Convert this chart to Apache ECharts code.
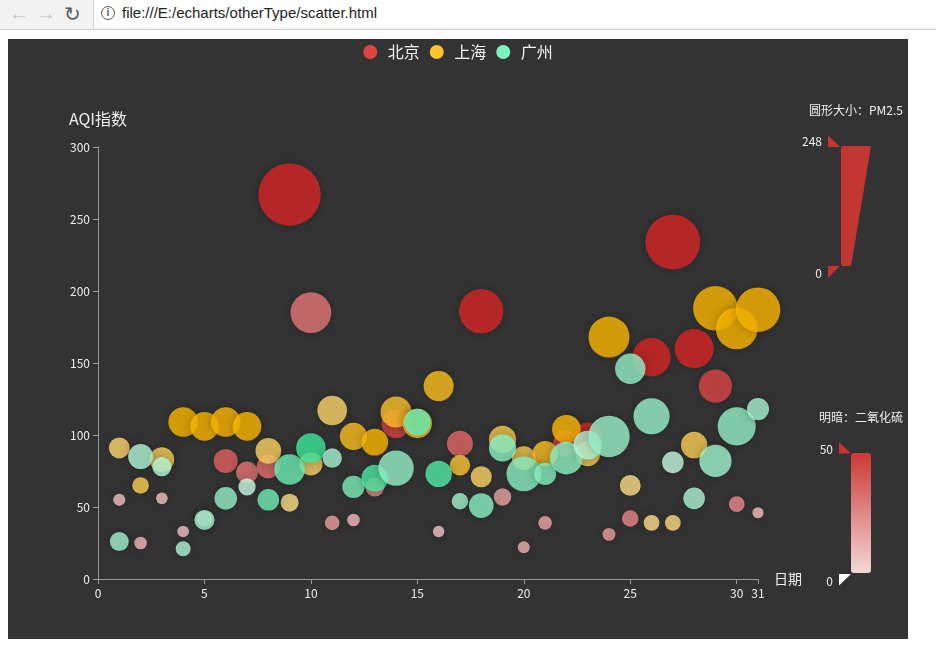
<!DOCTYPE html>
<html>
<head>
<meta charset="utf-8">
<script src="https://cdn.jsdelivr.net/npm/echarts@6/dist/echarts.min.js"></script>
<style>
  html, body { margin: 0; padding: 0; background: #fff; width: 936px; height: 654px; overflow: hidden; }
  #chrome { position: absolute; left: 0; top: 0; width: 936px; height: 29px; background: #f2f2f2; border-bottom: 1px solid #d0d0d0; font-family: "Liberation Sans", "DejaVu Sans", sans-serif; }
  #chrome .nav { position: absolute; top: 2px; font-size: 20px; color: #c8c8c8; }
  #chrome .reload { color: #5a5a5a; }
  #url { position: absolute; left: 93px; top: 0; width: 850px; height: 28px; background: #fff; border-left: 1px solid #d0d0d0; }
  #url span { position: absolute; left: 28px; top: 4px; font-size: 15px; color: #222; }
  #url i { position: absolute; left: 7px; top: 6px; width: 12px; height: 12px; border: 1.5px solid #555; border-radius: 50%; font-style: normal; font-size: 10px; line-height: 12px; text-align: center; color: #555; font-weight: bold; }
  #main { position: absolute; left: 8px; top: 39px; width: 900px; height: 600px; }
</style>
</head>
<body>
<div id="chrome">
  <span class="nav" style="left:9px">&#8592;</span>
  <span class="nav" style="left:36px">&#8594;</span>
  <span class="nav reload" style="left:64px">&#8635;</span>
  <div id="url"><i>i</i><span>file:///E:/echarts/otherType/scatter.html</span></div>
</div>
<div id="main"></div>
<script>
// ---- data ----
const cities = ['北京', '上海', '广州'];
const days = [1,2,3,4,5,6,7,8,9,10,11,12,13,14,15,16,17,18,19,20,21,22,23,24,25,26,27,28,29,30,31];

const bjAQI  = [55,25,56,33,42,82,74,78,267,185,39,41,64,108,108,33,94,186,57,22,39,94,99,31,42,154,234,160,134,52,46];
const bjPM25 = [9,11,7,7,24,58,49,55,216,127,19,11,38,79,63,6,66,142,31,8,15,69,73,12,27,117,185,120,96,24,5];
const bjSO2  = [6,9,5,6,16,33,27,29,64,27,15,7,22,41,26,5,31,79,14,10,13,39,48,16,22,58,69,50,41,21,6];

const shAQI  = [91,65,83,109,106,109,106,89,53,80,117,99,95,116,108,134,79,71,97,84,87,104,87,168,65,39,39,93,188,174,187];
const shPM25 = [45,27,60,81,77,81,77,65,33,55,81,71,69,87,80,83,43,46,71,57,63,77,62,128,45,24,24,68,143,131,143];
const shSO2  = [23,29,27,51,51,51,51,26,17,24,24,42,50,40,37,43,37,25,31,31,41,48,28,56,17,17,19,29,51,50,53];

const gzAQI  = [26,85,78,21,41,56,64,55,76,91,84,64,70,77,109,73,54,51,91,73,73,84,93,99,146,113,81,56,82,106,118];
const gzPM25 = [37,62,38,21,42,52,30,48,85,81,39,51,69,105,68,68,27,61,71,102,50,94,77,130,84,108,48,48,92,116,50];
const gzSO2  = [13,8,7,9,13,16,2,26,27,40,11,23,36,16,29,34,12,19,18,19,20,18,7,15,17,15,3,9,13,16,11];

const pm25Range = [0, 248];   // size legend range
const so2Range = [0, 50];     // lightness legend range
const sizeLabels = ['248', '0'];
const so2Labels = ['50', '0'];

// ---- build ----
function rows(aqi, pm, so2) {
  return days.map((d, i) => [d, aqi[i], pm[i], so2[i]]);
}
const seriesData = [rows(bjAQI, bjPM25, bjSO2), rows(shAQI, shPM25, shSO2), rows(gzAQI, gzPM25, gzSO2)];

const FONT = "'Microsoft YaHei', 'Noto Sans CJK SC', sans-serif";
const itemStyle = {
  opacity: 0.8,
  shadowBlur: 10,
  shadowOffsetX: 0,
  shadowOffsetY: 0,
  shadowColor: 'rgba(0,0,0,0.3)'
};

const chart = echarts.init(document.getElementById('main'), null, { renderer: 'canvas' });

function tri(points, fill) {
  return { type: 'polygon', shape: { points: points }, style: { fill: fill }, silent: true };
}
function lbl(x, y, text) {
  return { type: 'text', x: x, y: y, silent: true,
    style: { text: text, fill: '#eee', font: '12px ' + FONT, align: 'right', verticalAlign: 'middle' } };
}

const option = {
  backgroundColor: '#333333',
  textStyle: { fontFamily: FONT },
  color: ['#dd4444', '#fec42c', '#80F1BE'],
  legend: {
    top: 0,
    itemGap: 10,
    icon: 'circle',
    data: cities,
    itemStyle: { opacity: 1 },
    textStyle: { color: '#f2f2f2', fontSize: 16, fontFamily: FONT }
  },
  grid: { left: '10%', right: 150, top: '18%', bottom: '10%' },
  xAxis: {
    type: 'value',
    name: '日期',
    nameGap: 16,
    nameTextStyle: { color: '#eee', fontSize: 14 },
    min: 0,
    max: 31,
    splitLine: { show: false },
    axisLine: { lineStyle: { color: '#999' } },
    axisTick: { lineStyle: { color: '#999' } },
    axisLabel: { color: '#eee', fontSize: 12 }
  },
  yAxis: {
    type: 'value',
    name: 'AQI指数',
    nameLocation: 'end',
    nameGap: 20,
    nameTextStyle: { color: '#eee', fontSize: 16 },
    min: 0,
    max: 300,
    interval: 50,
    splitLine: { show: false },
    axisLine: { show: true, lineStyle: { color: '#999' } },
    axisTick: { show: true, lineStyle: { color: '#999' } },
    axisLabel: { color: '#eee', fontSize: 12 }
  },
  visualMap: [
    {
      left: 'right',
      top: '10%',
      padding: 5,
      dimension: 2,
      min: pm25Range[0],
      max: pm25Range[1],
      itemWidth: 30,
      itemHeight: 120,
      calculable: false,
      text: ['圆形大小：PM2.5'],
      textGap: 30,
      textStyle: { color: '#eee', fontSize: 12 },
      inRange: { symbolSize: [10, 70] },
      outOfRange: { symbolSize: [10, 70], color: ['rgba(255,255,255,0.2)'] },
      controller: {
        inRange: { color: ['#c23531'], symbolSize: [1, 70] },
        outOfRange: { color: ['#444'] }
      }
    },
    {
      left: 'right',
      bottom: 61,
      padding: 5,
      dimension: 3,
      min: so2Range[0],
      max: so2Range[1],
      itemHeight: 120,
      calculable: false,
      text: ['明暗：二氧化硫'],
      textGap: 30,
      textStyle: { color: '#eee', fontSize: 12 },
      inRange: { colorLightness: [0.9, 0.5] },
      outOfRange: { color: ['rgba(255,255,255,0.2)'] },
      controller: {
        inRange: { color: ['#c23531'] },
        outOfRange: { color: ['#444'] }
      }
    }
  ],
  graphic: [
    tri([[820, 96], [820, 108], [832, 108]], '#c23531'),
    tri([[820, 227], [832, 227], [820, 239]], '#c23531'),
    lbl(814, 102, sizeLabels[0]),
    lbl(814, 234, sizeLabels[1]),
    tri([[831, 403], [831, 414.5], [843, 414.5]], '#c23531'),
    tri([[831, 535], [843, 535], [831, 546.5]], '#ffffff'),
    lbl(825, 410, so2Labels[0]),
    lbl(825, 542, so2Labels[1])
  ],
  series: cities.map((name, i) => ({
    name: name,
    type: 'scatter',
    itemStyle: itemStyle,
    data: seriesData[i]
  }))
};

chart.setOption(option);
</script>
</body>
</html>
